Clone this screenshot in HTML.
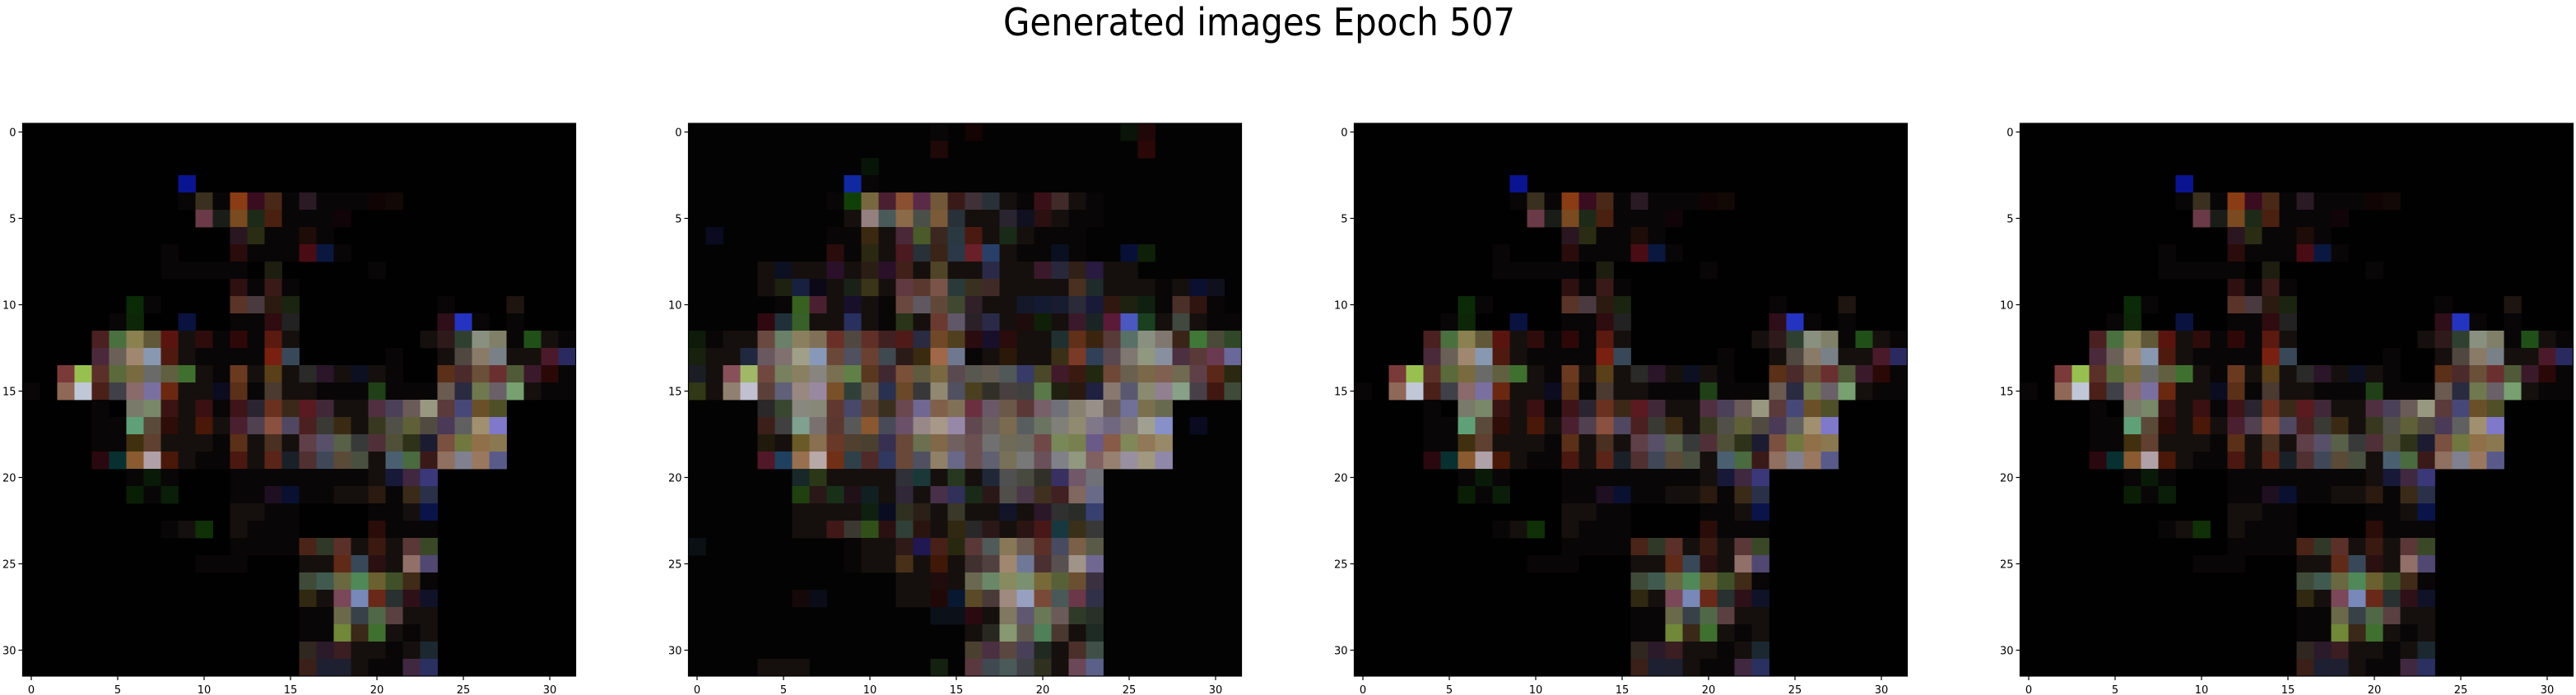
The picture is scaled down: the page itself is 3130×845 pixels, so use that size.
<!DOCTYPE html>
<html><head><meta charset="utf-8">
<style>
html,body{margin:0;padding:0;background:#fff;}
svg{display:block;}
text{font-family:"DejaVu Sans","Liberation Sans",sans-serif;fill:#000;}
</style></head>
<body>
<svg id="fig" width="3130" height="845" viewBox="0 0 3130 845" xmlns="http://www.w3.org/2000/svg">
<text x="1219" y="43" font-size="46" textLength="622" lengthAdjust="spacingAndGlyphs">Generated images Epoch 507</text>
</svg>
<script>
// aliases: k = near black, d = dark
const alias = {k:'080606', d:'15100d'};
const xTicks = [0,5,10,15,20,25,30];
const yTicks = [0,5,10,15,20,25,30];
const gridSize = 32;
const image1 = [
"",
"",
"",
"9:0a1490",
"9:k 10:3a3020 11:k 12:8a3c14 13:3a0c20 14:4a2818 15:k 16:2a1a24 17:k 18:k 19:k 20:100404 21:120806",
"10:6a3a48 11:1a1c18 12:7a4a20 13:1e2a18 14:4a2010 15:k 16:k 17:k 18:100408",
"12:2a1620 13:2a2c14 14:k 15:k 16:1e0c08 17:k",
"8:k 12:2a0c0c 13:k 14:k 15:k 16:4a0c14 17:0a1840 18:k",
"8:k 9:k 10:k 11:k 12:k 14:1e1e10 20:k",
"12:2e1010 13:k 14:3a1a18 15:k",
"6:0a2a08 7:k 12:5a3428 13:4a3a40 14:2a1a10 15:1a2410 24:k 28:1e1410",
"5:k 6:0e2608 9:0a1240 12:k 13:k 14:2e0c10 15:222222 24:2e0e18 25:2434c0 26:k 28:k",
"4:4a2020 5:4a7040 6:8a8050 7:605838 8:5a1410 9:d 10:2e0c0c 11:k 12:2e0808 13:k 14:5a1a10 15:d 23:d 24:2e1a1a 25:304030 26:8a9080 27:808068 28:k 29:205018 30:d 31:k",
"4:4a2a3a 5:6a6058 6:a08870 7:8898b0 8:4e1a10 9:d 10:k 11:k 12:k 13:k 14:7a2010 15:384858 21:k 24:d 25:504840 26:8a7a68 27:7a8088 28:d 29:d 30:4a1a2a 31:2a2a60",
"2:7a3a3a 3:98c050 4:5a3028 5:5a6a3a 6:7a6a40 7:6a6a68 8:606040 9:407030 10:d 11:k 12:6a3a20 13:d 14:5a4018 15:d 16:2a2a28 17:2a1628 18:d 19:0c1020 20:d 21:k 24:5a3018 25:4a2a2a 26:6a5038 27:6a3030 28:505a38 29:3a1a2a 30:2a0808 31:k",
"0:k 2:906858 3:c0c8d8 4:4a2018 5:404048 6:8a6a6a 7:7a70a0 8:6a2810 9:d 10:d 11:0c0c20 12:5a3018 13:k 14:4a3a30 15:d 16:d 17:k 18:k 19:k 20:204018 21:k 22:k 23:k 24:6a5a50 25:2a2a40 26:707850 27:6a6068 28:78a070 29:d 30:k 31:k",
"4:k 6:7a7a6a 7:788868 8:3a1412 9:d 10:3a1012 11:k 12:3e1418 13:2a2430 14:6a3020 15:3a2818 16:5a1a20 17:402838 18:d 19:d 20:503040 21:4a4058 22:6a5a58 23:989880 24:5a3a3a 25:484878 26:6a5028 27:505028",
"4:k 5:k 6:60a078 7:5a4a3a 8:2e0c08 9:d 10:4a1808 11:d 12:4a2030 13:504050 14:8a5040 15:504860 16:4a2020 17:3a3a34 18:3a2a14 19:d 20:383820 21:505048 22:606038 23:504a40 24:4a3a58 25:606060 26:a09070 27:8078c8",
"4:k 5:k 6:403010 7:604030 8:d 9:d 10:d 11:k 12:5a3018 13:d 14:4a3020 15:d 16:604048 17:585068 18:586048 19:383a3a 20:503038 21:505038 22:2e3218 23:1c1c30 24:7a5040 25:707840 26:907048 27:8a7850",
"4:2a0810 5:083030 6:8a5a30 7:b0a0a8 8:4a1808 9:d 10:k 11:k 12:4a1810 13:d 14:5a2418 15:1a2028 16:503030 17:404858 18:5a4a38 19:4a5040 20:d 21:4a6070 22:4a6a40 23:3a1a18 24:907060 25:808090 26:9a7860 27:5a5a8a",
"6:k 7:0a1a08 8:k 12:k 13:k 14:k 15:k 16:k 17:k 18:k 19:k 20:d 21:181838 22:402840 23:3a3878",
"6:0a1e06 7:k 8:0a1e0a 12:k 13:k 14:1e1020 15:0a1030 16:k 17:k 18:d 19:d 20:2a1a10 21:k 22:3a2a18 23:2a3048",
"12:d 13:d 14:k 15:k 20:k 21:k 22:d 23:0a1448",
"8:k 9:d 10:103008 12:d 13:k 14:k 15:k 20:2a0c08 21:k 22:k 23:k",
"12:k 13:k 14:k 15:k 16:4a2418 17:303828 18:5a3028 19:d 20:3a1a10 21:d 22:5a3838 23:3a4828",
"10:k 11:k 12:k 16:d 17:d 18:602a18 19:384858 20:2a1010 21:d 22:907068 23:504870",
"16:404a38 17:405a50 18:6a6840 19:508858 20:6a6030 21:405028 22:402a18 23:k",
"16:302810 17:d 18:7a4858 19:7888b8 20:6a2818 21:283030 22:2e1018 23:101228",
"16:k 17:k 18:6a6a4a 19:384048 20:506848 21:5a4040 22:d 23:d",
"16:k 17:k 18:708838 19:3a2818 20:407030 21:d 22:k 23:d",
"16:302820 17:2a1a2a 18:3a1e22 19:d 20:d 21:k 22:d 23:1c2830",
"16:3a2018 17:1c2030 18:1e2030 19:d 20:k 21:k 22:402840 23:2a3060"
];
const image2 = [
"14:k 16:140404 25:0a1408 26:200808",
"14:1e0808 26:2a0808",
"10:081408",
"9:1028a0 10:k",
"8:k 9:104008 10:786840 11:4a2030 12:8a5030 13:5a2a48 14:705838 15:3a1a18 16:403038 17:2a3038 18:d 19:k 20:3a1018 21:402a2a 22:d 23:k",
"9:d 10:948080 11:4a5a58 12:8a6a48 13:4a5048 14:7a5a38 15:283038 16:d 17:d 18:2a2430 19:101020 20:2a1010 21:d 22:k 23:k",
"1:0a0a20 8:k 9:k 10:3a2810 11:d 12:4a2838 13:4a5a28 14:3a2820 15:2a3840 16:4a1a10 17:d 18:1a2a18 19:d 20:k 21:k 22:k",
"8:2a0c0c 9:k 10:2a2810 11:d 12:4a1a20 13:283038 14:3a2418 15:2a3848 16:6a2028 17:284068 18:d 19:k 20:k 21:0a1020 22:k 25:081038 26:0e2008",
"4:d 5:0c1020 6:d 7:d 8:2a1028 9:d 10:2a1e14 11:2a1028 12:402018 13:d 14:504428 15:d 16:d 17:2a2a48 18:d 19:d 20:3a1a2a 21:28283a 22:302018 23:281a40 24:d 25:d",
"4:d 5:1e2010 6:182040 7:0c0818 8:d 9:1a2218 10:3a3418 11:d 12:603a40 13:5a3830 14:7a5448 15:2a3a3a 16:3a3020 17:402a28 18:d 19:d 20:d 21:d 22:4a3020 23:202a2a 24:d 25:d 26:d 27:k 28:d 29:0c1030 30:10101c",
"5:k 6:386020 7:4a2030 8:d 9:18102a 10:d 11:k 12:6a4840 13:605860 14:604838 15:404830 16:302028 17:d 18:d 19:141828 20:141a30 21:181c30 22:2a2a38 23:181a38 24:301810 25:1e2010 26:102010 27:k 28:4a3028 29:301410 30:k",
"4:300810 5:203038 6:386028 7:d 8:d 9:283060 10:d 11:k 12:2a3418 13:d 14:6a3a30 15:605868 16:2a2028 17:2a2a48 18:d 19:1e0c0c 20:102008 21:d 22:3a1a2a 23:1a2424 24:5a1a38 25:4a58c0 26:1a4020 27:d 28:404840 29:d 30:k 31:k",
"0:0e1a0a 1:k 2:d 3:d 4:6a4a40 5:6a8068 6:8a8060 7:807058 8:6a3028 9:504840 10:603028 11:402020 12:501a18 13:2a2a40 14:704828 15:504020 16:2a0c10 17:18102a 18:2a0c0c 19:d 20:d 21:203030 22:603018 23:3a2410 24:583a38 25:587068 26:8a9080 27:807870 28:3a2418 29:407838 30:4a4a38 31:304828",
"0:18200e 1:d 2:d 3:202840 4:6a5860 5:807070 6:a0a088 7:8898b8 8:6a4838 9:505060 10:6a4030 11:404850 12:2a1a18 13:3a2a10 14:a06848 15:707890 16:k 17:d 18:2a1808 19:d 20:d 21:3a3018 22:7a3a28 23:304058 24:5a4850 25:807870 26:909880 27:8890a0 28:4a3040 29:5a3a38 30:6a3a50 31:6a6898",
"0:1a1e24 1:d 2:885058 3:a0b868 4:704840 5:788060 6:888060 7:888480 8:787050 9:608048 10:5a3820 11:402830 12:7a5038 13:605a40 14:7a6840 15:5a4a50 16:585850 17:605a50 18:505858 19:383a68 20:4a4828 21:401a28 22:3a1a10 23:202810 24:704838 25:6a6050 26:7a6848 27:806050 28:706a50 29:604048 30:5a2818 31:2a2810",
"0:303818 1:d 2:908070 3:c0c0d0 4:5a4038 5:606078 6:988880 7:9888a0 8:7a5028 9:304038 10:6a5a48 11:2a3050 12:6a4828 13:383838 14:908870 15:505060 16:4a4020 17:303028 18:484040 19:404040 20:5a7848 21:202010 22:281810 23:202040 24:887870 25:585870 26:8a8a70 27:908090 28:88a088 29:484048 30:401810 31:404a38",
"4:2a2828 5:384830 6:888880 7:888878 8:603830 9:484868 10:604030 11:3a3020 12:6a4850 13:706890 14:806048 15:807058 16:6a3040 17:6a5868 18:6a5848 19:5a3838 20:786068 21:707078 22:888070 23:989088 24:6a5a58 25:707098 26:7a7050 27:686a50",
"4:3a2018 5:404040 6:80a090 7:7a7070 8:5a3830 9:585858 10:8a5830 11:484a58 12:6a5068 13:988888 14:a89888 15:9888a8 16:604850 17:6a6060 18:7a6a50 19:585e60 20:6a7460 21:808078 22:908a70 23:807888 24:706880 25:807878 26:a0a090 27:8890c8 29:0a0a20",
"4:201a0c 5:d 6:6a5a28 7:887050 8:6a3828 9:504030 10:4a4030 11:383050 12:6a4838 13:6a7050 14:806848 15:706060 16:6a5050 17:707070 18:706a58 19:6a6a60 20:704848 21:788858 22:788050 23:6a5a88 24:885a48 25:808858 26:907858 27:988a68",
"4:501828 5:204060 6:987050 7:b8a8a8 8:703018 9:304048 10:502a28 11:303860 12:6a4838 13:505060 14:908068 15:6a6888 16:6a5050 17:606070 18:787058 19:787878 20:6a5058 21:808088 22:909880 23:806060 24:988070 25:9890a0 26:a09880 27:9088a8",
"6:182828 7:2a3818 8:d 9:d 10:d 11:d 12:303038 13:1a3838 14:d 15:283820 16:d 17:202838 18:505050 19:484a40 20:303028 21:383060 22:705868 23:707078",
"6:204010 7:2a1818 8:183018 9:201018 10:102020 11:d 12:302838 13:d 14:483048 15:303058 16:1a2a18 17:2a1818 18:504e48 19:4a3848 20:403020 21:402020 22:806860 23:686a88",
"6:d 7:d 8:d 9:d 10:102010 11:0a0c20 12:303020 13:2a2018 14:d 15:3a3828 16:d 17:d 18:141428 19:d 20:2a1828 21:303030 22:2a2c2a 23:384070",
"6:d 7:d 8:401818 9:3a3830 10:305018 11:2a1010 12:304038 13:2a1410 14:d 15:302810 16:282828 17:2a1818 18:d 19:2a1414 20:481818 21:183840 22:3a3018 23:383838",
"0:0a1014 9:k 10:d 11:d 12:301a18 13:201850 14:482018 15:282810 16:5a3838 17:505a58 18:887858 19:6a5a50 20:5a3028 21:484a60 22:7a6048 23:5a5a48",
"9:k 10:d 11:d 12:483018 13:d 14:401808 15:d 16:403030 17:504040 18:a08870 19:707898 20:4a3030 21:585050 22:a09488 23:706890",
"12:d 13:d 14:200c0c 15:d 16:6a6850 17:6a8868 18:888a60 19:7a9070 20:786a38 21:586038 22:6a5030 23:3a3040",
"6:140808 7:0a0c18 12:d 13:d 14:200808 15:081830 16:5a4a28 17:4a3a38 18:a08a80 19:98a0c0 20:7a4a38 21:4a5858 22:6a3848 23:303048",
"14:0c1018 15:0c1018 16:2a0a10 17:d 18:807860 19:605870 20:6a7858 21:6a5a58 22:303a28 23:283028",
"16:d 17:282820 18:889870 19:605850 20:508058 21:4a3830 22:d 23:1e2a24",
"16:4a4030 17:4a3040 18:5a4840 19:484058 20:202a20 21:d 22:4a3028 23:405048",
"4:d 5:d 6:d 14:142010 16:5a3840 17:404850 18:4a5a58 19:404048 20:303020 21:d 22:6a4858 23:5a6088"
];
const panelImages = [image1, image2, image1, image1];
const panelBase = ['010101', '030303', '010101', '010101'];
const panelLeft = [27.5, 836.5, 1645.5, 2454.5];
const top0 = 150, size = 672;
const NS = 'http://www.w3.org/2000/svg';
const svg = document.getElementById('fig');
function mk(tag, attrs){const e=document.createElementNS(NS,tag);for(const k in attrs)e.setAttribute(k,attrs[k]);return e;}
function xScale(left,v){return left + (v+0.5)*size/gridSize;}
function yScale(v){return top0 + (v+0.5)*size/gridSize;}
panelImages.forEach((img,p)=>{
  const left = panelLeft[p];
  const g = mk('g',{});
  
  
  svg.appendChild(g);
  const bg = mk('rect',{x:left,y:top0,width:size,height:size,fill:'#'+panelBase[p]});
  
  
  g.appendChild(bg);
  const cw = size/gridSize;
  img.forEach((row,r)=>{
    if(!row) return;
    row.split(' ').forEach(tok=>{
      const [c,col]=tok.split(':');
      const hex = alias[col]||col;
      const cell = mk('rect',{x:(xScale(left,+c)-cw/2).toFixed(2),y:(yScale(r)-cw/2).toFixed(2),width:(cw+0.4).toFixed(2),height:(cw+0.4).toFixed(2),fill:'#'+hex});
      
      
      g.appendChild(cell);
    });
  });
  const frame = mk('rect',{x:left,y:top0,width:size,height:size,fill:'none',stroke:'#000','stroke-width':1.2});
  
  
  g.appendChild(frame);
  xTicks.forEach(t=>{
    const x=xScale(left,t);
    const tk=mk('line',{x1:x,x2:x,y1:top0+size,y2:top0+size+5,stroke:'#000','stroke-width':1.2});
    
    
    g.appendChild(tk);
    const tx=mk('text',{x:x,y:843,'font-size':13,'text-anchor':'middle'});
    
    
    tx.textContent=t; g.appendChild(tx);
  });
  yTicks.forEach(t=>{
    const y=yScale(t);
    const tk=mk('line',{x1:left-5,x2:left,y1:y,y2:y,stroke:'#000','stroke-width':1.2});
    
    
    g.appendChild(tk);
    const tx=mk('text',{x:left-8,y:y+5,'font-size':13,'text-anchor':'end'});
    
    
    tx.textContent=t; g.appendChild(tx);
  });
});
</script>
</body></html>
